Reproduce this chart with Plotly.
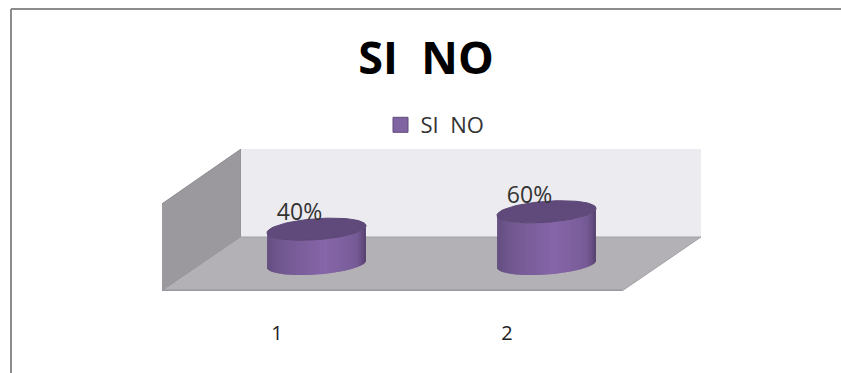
import math
import plotly.graph_objects as go

categories = [1, 2]
labels = ["40%", "60%"]
values = [40, 60]
series_name = "SI  NO"
title_text = "SI  NO"

# Axis scale: 1 category = 230 px, 100 value units = 87 px
PX_X, PX_Y = 230.0, 0.87
X0, X1 = 0.5, 0.5 + 539 / PX_X
Y0, Y1 = 0, 142 / PX_Y
DEPTH_X, DEPTH_Y = 79 / PX_X, 54 / PX_Y
WALL_H = 88 / PX_Y
FRONT_W = 460 / PX_X
RX, RY, TILT = 49.5 / PX_X, 10.5 / PX_Y, 3.5 / PX_Y
N = 44

SIDE_STOPS = [(0, (92, 72, 118)), (0.18, (108, 84, 138)), (0.55, (134, 101, 168)),
              (0.8, (118, 90, 150)), (0.95, (84, 64, 108)), (1, (74, 56, 96))]


def mix(t):
    for (a, ca), (b, cb) in zip(SIDE_STOPS, SIDE_STOPS[1:]):
        if t <= b:
            f = (t - a) / (b - a)
            return "rgb(%d,%d,%d)" % tuple(round(p + (q - p) * f) for p, q in zip(ca, cb))
    return "rgb(74,56,96)"


def ell(cx, cy, th):
    return cx + RX * math.cos(th), cy + RY * math.sin(th) + TILT * math.cos(th)


fig = go.Figure()


def poly(xs, ys, color, line=None):
    fig.add_trace(go.Scatter(x=xs, y=ys, mode="lines", fill="toself", fillcolor=color,
                             line=dict(width=1 if line else 0, color=line or color),
                             hoverinfo="skip", showlegend=False))


# Walls and floor
poly([X0, X0 + DEPTH_X, X0 + DEPTH_X, X0],
     [WALL_H - 1, WALL_H + DEPTH_Y, DEPTH_Y, 0], "#9b999d", "#8f8d91")
poly([X0 + DEPTH_X, X0 + DEPTH_X + FRONT_W, X0 + DEPTH_X + FRONT_W, X0 + DEPTH_X],
     [DEPTH_Y, DEPTH_Y, DEPTH_Y + WALL_H, DEPTH_Y + WALL_H], "#ecebf0")
poly([X0, X0 + FRONT_W, X0 + FRONT_W + DEPTH_X, X0 + DEPTH_X],
     [0, 0, DEPTH_Y, DEPTH_Y], "#b3b1b5", "#a3a1a5")
fig.add_trace(go.Scatter(x=[X0, X0 + FRONT_W], y=[0, 0], mode="lines",
                         line=dict(color="#9a989c", width=3),
                         hoverinfo="skip", showlegend=False, cliponaxis=False))

# Cylinders
text_x, text_y = [], []
for c, v in zip(categories, values):
    cx = c + DEPTH_X / 2
    base = DEPTH_Y / 2
    top = base + v
    for i in range(N):
        t0 = math.pi * (1 - i / N)
        t1 = math.pi * (1 - (i + 1.6) / N) if i < N - 1 else 0
        steps = [t0 + (t1 - t0) * k / 3 for k in range(4)]
        low = [ell(cx, base, -s) for s in steps]
        high = [ell(cx, top, -s) for s in reversed(steps)]
        pts = low + high
        poly([p[0] for p in pts], [p[1] for p in pts], mix((i + 0.5) / N))
    pts = [ell(cx, top, 2 * math.pi * k / 72) for k in range(73)]
    poly([p[0] for p in pts], [p[1] for p in pts], "#604a7b", "#5a4574")
    text_x.append(cx - 17 / PX_X)
    text_y.append(top + 15 / PX_Y)

# Data labels
fig.add_trace(go.Scatter(x=text_x, y=text_y, mode="text", text=labels, textposition="middle center",
                         textfont=dict(family="Open Sans", size=23, color="#333333"),
                         hoverinfo="skip", showlegend=False, cliponaxis=False))

# Legend entry
fig.add_trace(go.Scatter(x=[None], y=[None], mode="markers", name=series_name,
                         marker=dict(symbol="square", size=15, color="#8064a2",
                                     line=dict(color="#5f4a7b", width=1))))

fig.update_layout(
    width=841, height=373, autosize=False,
    margin=dict(l=0, r=0, t=0, b=0),
    paper_bgcolor="white", plot_bgcolor="rgba(0,0,0,0)",
    title=dict(text="<b>%s</b>" % title_text, x=426 / 841, y=1 - 58 / 373, xanchor="center", yanchor="middle",
               font=dict(family="Open Sans", size=45, color="black")),
    showlegend=True,
    legend=dict(x=435 / 841, y=1 - 125 / 373, xanchor="center", yanchor="middle",
                bgcolor="rgba(0,0,0,0)", font=dict(family="Open Sans", size=22, color="#333333"),
                itemwidth=30),
    xaxis=dict(domain=[162 / 841, 701 / 841], range=[X0, X1], tickmode="array",
               tickvals=categories, ticktext=[str(c) for c in categories], showgrid=False,
               zeroline=False, showline=False, ticks="outside", ticklen=24, tickcolor="rgba(0,0,0,0)",
               tickfont=dict(family="Open Sans", size=20, color="#222222")),
    yaxis=dict(domain=[1 - 291 / 373, 1 - 149 / 373], range=[Y0, Y1], visible=False),
    shapes=[
        dict(type="line", xref="paper", yref="paper", x0=11 / 841, x1=1, y0=1 - 9 / 373, y1=1 - 9 / 373,
             line=dict(color="#8c8c8c", width=2)),
        dict(type="line", xref="paper", yref="paper", x0=11 / 841, x1=11 / 841, y0=1 - 9 / 373, y1=0,
             line=dict(color="#8c8c8c", width=2)),
    ],
)

fig.write_html("out.html", config=dict(displayModeBar=False),
               post_script="document.body.style.margin='0';document.documentElement.style.overflow='hidden';")
